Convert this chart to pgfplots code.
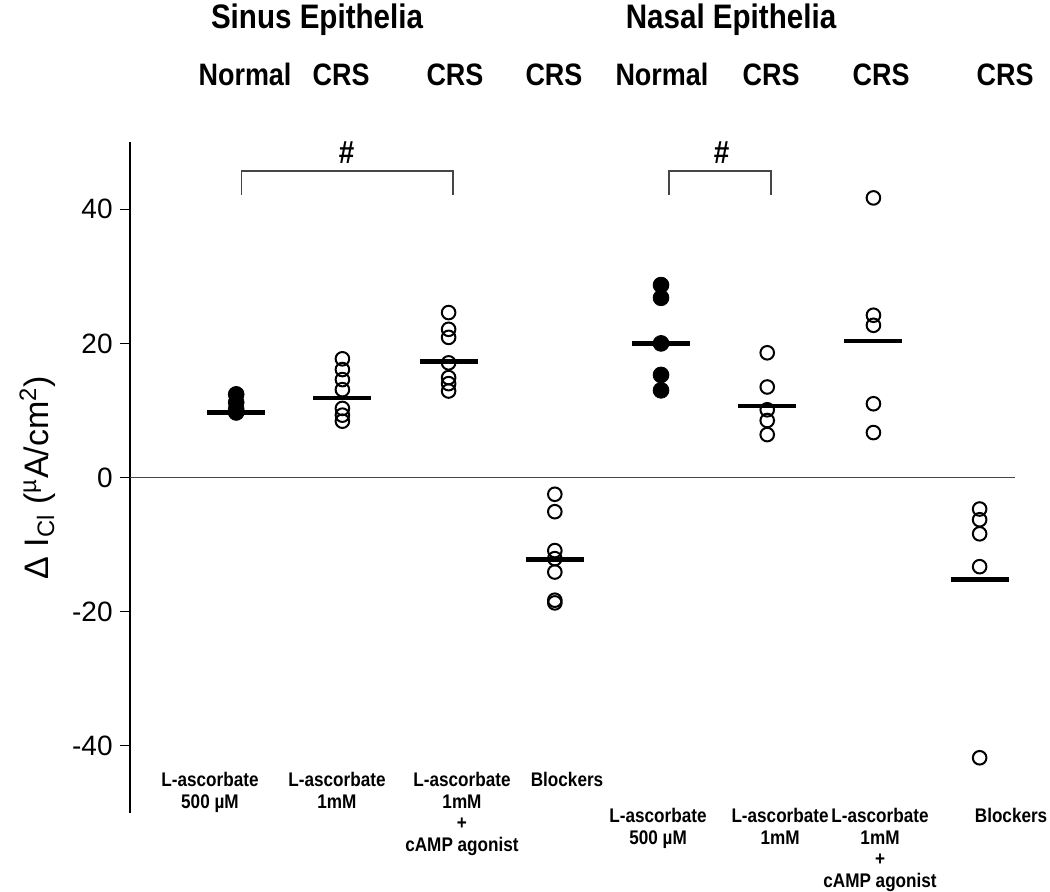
\documentclass[border=0pt]{standalone}
\usepackage{fontspec}
\setmainfont{Liberation Sans}
\newfontfamily\cnd[FakeStretch=0.87]{Liberation Sans}
\usepackage{pgfplots}
\pgfplotsset{compat=1.18}
\begin{document}
\begin{tikzpicture}
\path[use as bounding box] (0pt,0pt) rectangle (525pt,445.5pt);
\begin{axis}[
  at={(65pt,39.125pt)}, anchor=south west,
  scale only axis, width=442.5pt, height=335.25pt,
  xmin=0, xmax=8.333, ymin=-50, ymax=50,
  axis x line=none, axis y line*=left,
  xtick=\empty,
  ytick={-40,-20,0,20,40},
  tick align=outside, major tick length=5pt,
  y axis line style={black, line width=0.65pt},
  ytick style={black, line width=0.65pt},
  yticklabel style={font=\fontsize{14}{14}\selectfont, inner xsep=3.5pt},
  /pgf/number format/assume math mode=true,
  clip=false,
]
% zero line
\addplot[gray!55!black, line width=0.6pt] coordinates {(0,0) (8.333,0)};
% filled groups (Normal)
\addplot[only marks, mark=*, mark size=3.95pt, black] coordinates {
(1,12.4) (1,11.2) (1,10.2) (1,9.7)
(5,28.7) (5,26.8) (5,20.0) (5,15.3) (5,13.0)};
% open groups (CRS)
\addplot[only marks, mark=o, mark size=3.4pt, black, mark options={line width=1pt}] coordinates {
(2,17.7) (2,16.1) (2,14.6) (2,13.1) (2,10.3) (2,9.3) (2,8.4)
(3,24.6) (3,22.1) (3,20.9) (3,17.1) (3,14.9) (3,14.0) (3,12.9)
(4,-2.5) (4,-5.1) (4,-10.9) (4,-12.1) (4,-14.1) (4,-18.3) (4,-18.7)
(6,18.6) (6,13.5) (6,10.1) (6,8.5) (6,6.4)
(7,41.7) (7,24.2) (7,22.7) (7,11.0) (7,6.7)
(8,-4.7) (8,-6.3) (8,-8.4) (8,-13.3) (8,-41.8)};
% mean lines
\addplot[black, line width=2.2pt, unbounded coords=jump] coordinates {
(0.727,9.7) (1.273,9.7) (1,nan)
(1.727,11.85) (2.273,11.85) (2,nan)
(2.727,17.3) (3.273,17.3) (3,nan)
(3.727,-12.2) (4.273,-12.2) (4,nan)
(4.727,20.0) (5.273,20.0) (5,nan)
(5.727,10.7) (6.273,10.7) (6,nan)
(6.727,20.4) (7.273,20.4) (7,nan)
(7.727,-15.2) (8.273,-15.2)};
% significance brackets
\draw[gray!55!black, line width=0.7pt] (axis cs:1.052,42.1) |- (axis cs:3.04,45.7) -- (axis cs:3.04,42.1);
\draw[gray!55!black, line width=0.7pt] (axis cs:5.075,42.1) |- (axis cs:6.036,45.7) -- (axis cs:6.036,42.1);
\node[font=\fontsize{16}{16}\cnd\bfseries] at (axis cs:2.04,48.5) {\#};
\node[font=\fontsize{16}{16}\cnd\bfseries] at (axis cs:5.57,48.5) {\#};
% y label
\node[rotate=90, font=\fontsize{17}{17}\selectfont] at (axis cs:-0.87,0) {Δ I\textsubscript{Cl} (\textsuperscript{µ}A/cm\textsuperscript{2})};
% titles
\node[anchor=base, font=\fontsize{17}{17}\cnd\bfseries] at (axis cs:1.761,66.9) {Sinus Epithelia};
\node[anchor=base, font=\fontsize{17}{17}\cnd\bfseries] at (axis cs:5.659,66.9) {Nasal Epithelia};
% row 2
\tikzset{grp/.style={anchor=base, font=\fontsize{15.5}{15.5}\cnd\bfseries}}
\node[grp] at (axis cs:1.083,58.4) {Normal};
\node[grp] at (axis cs:1.987,58.4) {CRS};
\node[grp] at (axis cs:3.060,58.4) {CRS};
\node[grp] at (axis cs:3.992,58.4) {CRS};
\node[grp] at (axis cs:5.009,58.4) {Normal};
\node[grp] at (axis cs:6.036,58.4) {CRS};
\node[grp] at (axis cs:7.072,58.4) {CRS};
\node[grp] at (axis cs:8.239,58.4) {CRS};
% bottom labels
\tikzset{bl/.style={font=\fontsize{9.85}{10.75}\cnd\bfseries, align=center, anchor=north, inner sep=0pt}}
\node[bl] at (axis cs:0.753,-43.9) {L-ascorbate\\500 µM};
\node[bl] at (axis cs:1.949,-43.9) {L-ascorbate\\1mM};
\node[bl] at (axis cs:3.126,-43.9) {L-ascorbate\\1mM\\+\\cAMP agonist};
\node[bl] at (axis cs:4.115,-43.9) {Blockers};
\node[bl] at (axis cs:4.972,-49.3) {L-ascorbate\\500 µM};
\node[bl] at (axis cs:6.121,-49.3) {L-ascorbate\\1mM};
\node[bl] at (axis cs:7.062,-49.3) {L-ascorbate\\1mM\\+\\cAMP agonist};
\node[bl] at (axis cs:8.296,-49.3) {Blockers};
\end{axis}
\end{tikzpicture}
\end{document}
